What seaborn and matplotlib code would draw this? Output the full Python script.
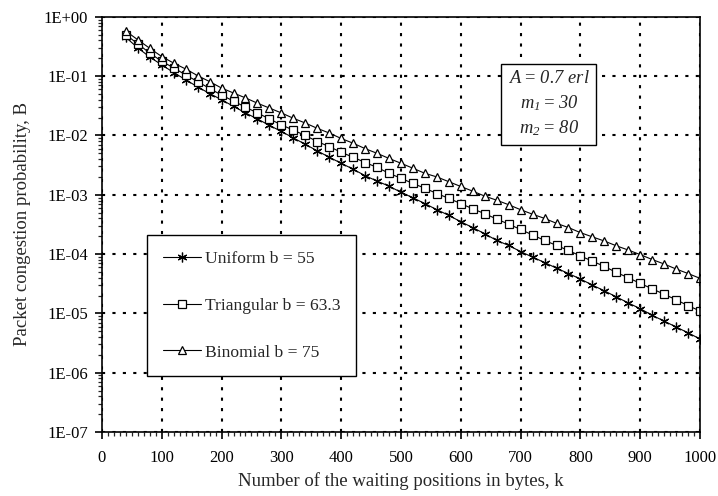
import matplotlib
matplotlib.use("Agg")
import matplotlib.pyplot as plt
from matplotlib.ticker import FuncFormatter, MultipleLocator, LogLocator, NullFormatter
import numpy as np
import seaborn as sns

# waiting positions (bytes)
k_values = list(range(40, 1001, 20))

uniform_b55 = [
    4.5e-1, 3.0e-1, 2.1e-1, 1.55e-1,
    1.15e-1, 8.7e-2, 6.6e-2, 5.1e-2, 4.0e-2,
    3.1e-2, 2.4e-2, 1.9e-2, 1.48e-2, 1.17e-2,
    9.1e-3, 7.1e-3, 5.5e-3, 4.3e-3, 3.4e-3,
    2.7e-3, 2.1e-3, 1.7e-3, 1.4e-3, 1.1e-3,
    8.9e-4, 7.1e-4, 5.6e-4, 4.5e-4, 3.5e-4,
    2.8e-4, 2.2e-4, 1.7e-4, 1.4e-4, 1.1e-4,
    8.9e-5, 7.2e-5, 5.8e-5, 4.7e-5, 3.8e-5,
    3.0e-5, 2.4e-5, 1.9e-5, 1.5e-5, 1.2e-5,
    9.3e-6, 7.4e-6, 5.9e-6, 4.7e-6, 3.7e-6,
]

triangular_b633 = [
    5.0e-1, 3.5e-1, 2.45e-1, 1.78e-1,
    1.38e-1, 1.05e-1, 8.1e-2, 6.2e-2, 4.8e-2,
    3.8e-2, 3.0e-2, 2.4e-2, 1.9e-2, 1.51e-2,
    1.23e-2, 1.0e-2, 7.9e-3, 6.5e-3, 5.2e-3,
    4.3e-3, 3.5e-3, 2.9e-3, 2.3e-3, 1.9e-3,
    1.55e-3, 1.29e-3, 1.05e-3, 8.7e-4, 7.1e-4,
    5.8e-4, 4.8e-4, 3.9e-4, 3.2e-4, 2.6e-4,
    2.1e-4, 1.7e-4, 1.4e-4, 1.15e-4, 9.3e-5,
    7.6e-5, 6.2e-5, 4.9e-5, 4.0e-5, 3.2e-5,
    2.6e-5, 2.1e-5, 1.7e-5, 1.35e-5, 1.1e-5,
]

binomial_b75 = [
    5.75e-1, 4.1e-1, 2.95e-1, 2.14e-1,
    1.66e-1, 1.32e-1, 1.02e-1, 8.1e-2, 6.3e-2,
    5.2e-2, 4.3e-2, 3.5e-2, 2.9e-2, 2.4e-2,
    1.95e-2, 1.62e-2, 1.32e-2, 1.1e-2, 8.9e-3,
    7.4e-3, 6.0e-3, 5.0e-3, 4.1e-3, 3.4e-3,
    2.8e-3, 2.3e-3, 2.0e-3, 1.66e-3, 1.38e-3,
    1.15e-3, 9.5e-4, 8.1e-4, 6.8e-4, 5.6e-4,
    4.7e-4, 4.0e-4, 3.3e-4, 2.8e-4, 2.3e-4,
    1.95e-4, 1.66e-4, 1.38e-4, 1.17e-4, 9.8e-5,
    8.1e-5, 6.8e-5, 5.6e-5, 4.7e-5, 3.9e-5,
]

series_labels = ["Uniform b = 55", "Triangular b = 63.3", "Binomial b = 75"]

sns.set_style("ticks")
plt.rcParams["font.family"] = ["Liberation Serif", "DejaVu Serif"]
plt.rcParams["mathtext.fontset"] = "custom"
plt.rcParams["mathtext.it"] = "Liberation Serif:italic"
plt.rcParams["mathtext.rm"] = "Liberation Serif:italic"

fig = plt.figure(figsize=(7.18, 4.96), dpi=100)
ax = fig.add_axes([0.142, 0.129, 0.833, 0.837])

line_kw = dict(color="black", linewidth=0.8, markeredgecolor="black",
               markeredgewidth=0.9)
sns.lineplot(x=k_values, y=uniform_b55, ax=ax, marker=(6, 2, 0), markersize=7,
             label=series_labels[0], **line_kw)
sns.lineplot(x=k_values, y=triangular_b633, ax=ax, marker="s", markersize=6,
             markerfacecolor="white", label=series_labels[1], **line_kw)
sns.lineplot(x=k_values, y=binomial_b75, ax=ax, marker="^", markersize=6,
             markerfacecolor="white", label=series_labels[2], **line_kw)

ax.set_yscale("log")
ax.set_xlim(0, 1000)
ax.set_ylim(1e-7, 1)
ax.xaxis.set_major_locator(MultipleLocator(100))
ax.xaxis.set_minor_locator(MultipleLocator(10))
ax.yaxis.set_major_locator(LogLocator(base=10, numticks=10))
ax.yaxis.set_minor_locator(LogLocator(base=10, subs=np.arange(2, 10), numticks=10))
ax.yaxis.set_minor_formatter(NullFormatter())
ax.yaxis.set_major_formatter(FuncFormatter(lambda v, p: f"1E{int(round(np.log10(v))):+03d}"))

ax.grid(True, which="major", color="black", linestyle=(0, (1.5, 3.5)), linewidth=1.5)
for s in ax.spines.values():
    s.set_linewidth(1.2)
    s.set_color("black")
ax.tick_params(which="major", direction="out", length=5, width=1.2,
               labelsize=12, colors="black")
ax.tick_params(axis="x", which="major", pad=8)
ax.tick_params(axis="y", which="major", pad=5)
ax.tick_params(which="minor", direction="out", length=3, width=0.9)

ax.set_xlabel("Number of the waiting positions in bytes, k", fontsize=13.5, labelpad=4)
ax.set_ylabel("Packet congestion probability, B", fontsize=13.5, labelpad=9)

leg = ax.legend(loc="upper left", bbox_to_anchor=(0.075, 0.475), fontsize=12.6,
                frameon=True, fancybox=False, edgecolor="black",
                labelspacing=1.75, handlelength=2.2, handletextpad=0.2,
                borderpad=0.9, borderaxespad=0, framealpha=1)
leg.get_frame().set_linewidth(1.0)

ax.text(0.747, 0.79, "$A$ = $0.7$ $erl$\n$m_1 = 30$\n$m_2$ = $80$",
        transform=ax.transAxes, ha="center", va="center", fontsize=13.3,
        linespacing=1.4,
        bbox=dict(boxstyle="square,pad=0.35", facecolor="white",
                  edgecolor="black", linewidth=1.0))

plt.savefig("out.png", dpi=100)
plt.close()
